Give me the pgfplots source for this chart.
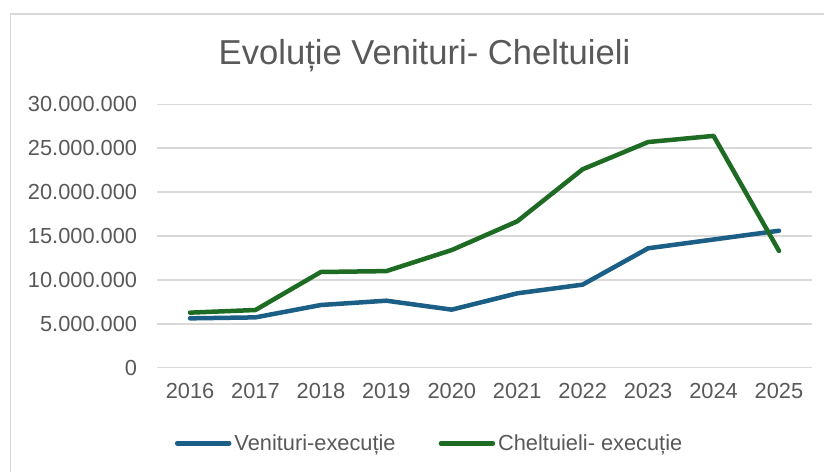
\documentclass[border=0pt]{standalone}
\usepackage{fontspec}
\setmainfont{Liberation Sans}
\usepackage{pgfplots}
\pgfplotsset{compat=1.18}
\definecolor{vblue}{HTML}{1B5E86}
\definecolor{cgreen}{HTML}{1E6B24}
\definecolor{txtgray}{HTML}{595959}
\definecolor{gridgray}{HTML}{D9D9D9}
\begin{document}
\begin{tikzpicture}[x=1bp,y=1bp]
\useasboundingbox (0,0) rectangle (824,472);
\fill[white] (0,0) rectangle (824,472);
\draw[gridgray, line width=1.2bp] (10.5,0) -- (10.5,458) -- (824,458);
\node[anchor=base, text=txtgray, font=\fontsize{34.6bp}{40bp}\selectfont] at (424.5,407.7) {Evoluție Venituri- Cheltuieli};
\begin{axis}[
  scale only axis,
  width=654.4bp, height=263.4bp,
  at={(157.3bp,104.3bp)}, anchor=south west,
  xmin=2015.5, xmax=2025.5,
  ymin=0, ymax=30000000,
  xtick={2016,2017,2018,2019,2020,2021,2022,2023,2024,2025},
  xticklabels={2016,2017,2018,2019,2020,2021,2022,2023,2024,2025},
  ytick={0,5000000,10000000,15000000,20000000,25000000,30000000},
  yticklabels={0,5.000.000,10.000.000,15.000.000,20.000.000,25.000.000,30.000.000},
  scaled y ticks=false,
  axis line style={draw=none},
  major tick length=0pt,
  tick style={draw=none},
  ymajorgrids,
  major grid style={gridgray, line width=1.5bp},
  ticklabel style={text=txtgray, font=\fontsize{21.8bp}{25bp}\selectfont},
  yticklabel style={anchor=east, inner sep=0pt, xshift=-20bp},
  xticklabel style={anchor=north, inner sep=0pt, yshift=-15bp},
  clip=false,
  legend columns=2,
  legend style={
    at={([yshift=-75.6bp]axis description cs:0.027,0)}, anchor=west,
    draw=none, fill=none, inner sep=0pt, outer sep=0pt,
    font=\fontsize{21.8bp}{25bp}\selectfont, text=txtgray,
    nodes={inner xsep=3bp, inner ysep=0pt},
    /tikz/every even column/.append style={column sep=40bp}
  },
  legend cell align=left,
  legend image code/.code={\draw[#1, line cap=round] (0bp,0bp) -- (52bp,0bp);},
]
\addplot[vblue, line width=4.5bp, line cap=round, line join=round] coordinates {
  (2016,5620000) (2017,5730000) (2018,7140000) (2019,7630000) (2020,6610000)
  (2021,8470000) (2022,9460000) (2023,13600000) (2024,14600000) (2025,15600000)
};
\addlegendentry{Venituri-execuție}
\addplot[cgreen, line width=4.5bp, line cap=round, line join=round] coordinates {
  (2016,6270000) (2017,6570000) (2018,10900000) (2019,11000000) (2020,13400000)
  (2021,16670000) (2022,22600000) (2023,25700000) (2024,26400000) (2025,13300000)
};
\addlegendentry{Cheltuieli- execuție}
\end{axis}
\end{tikzpicture}
\end{document}
